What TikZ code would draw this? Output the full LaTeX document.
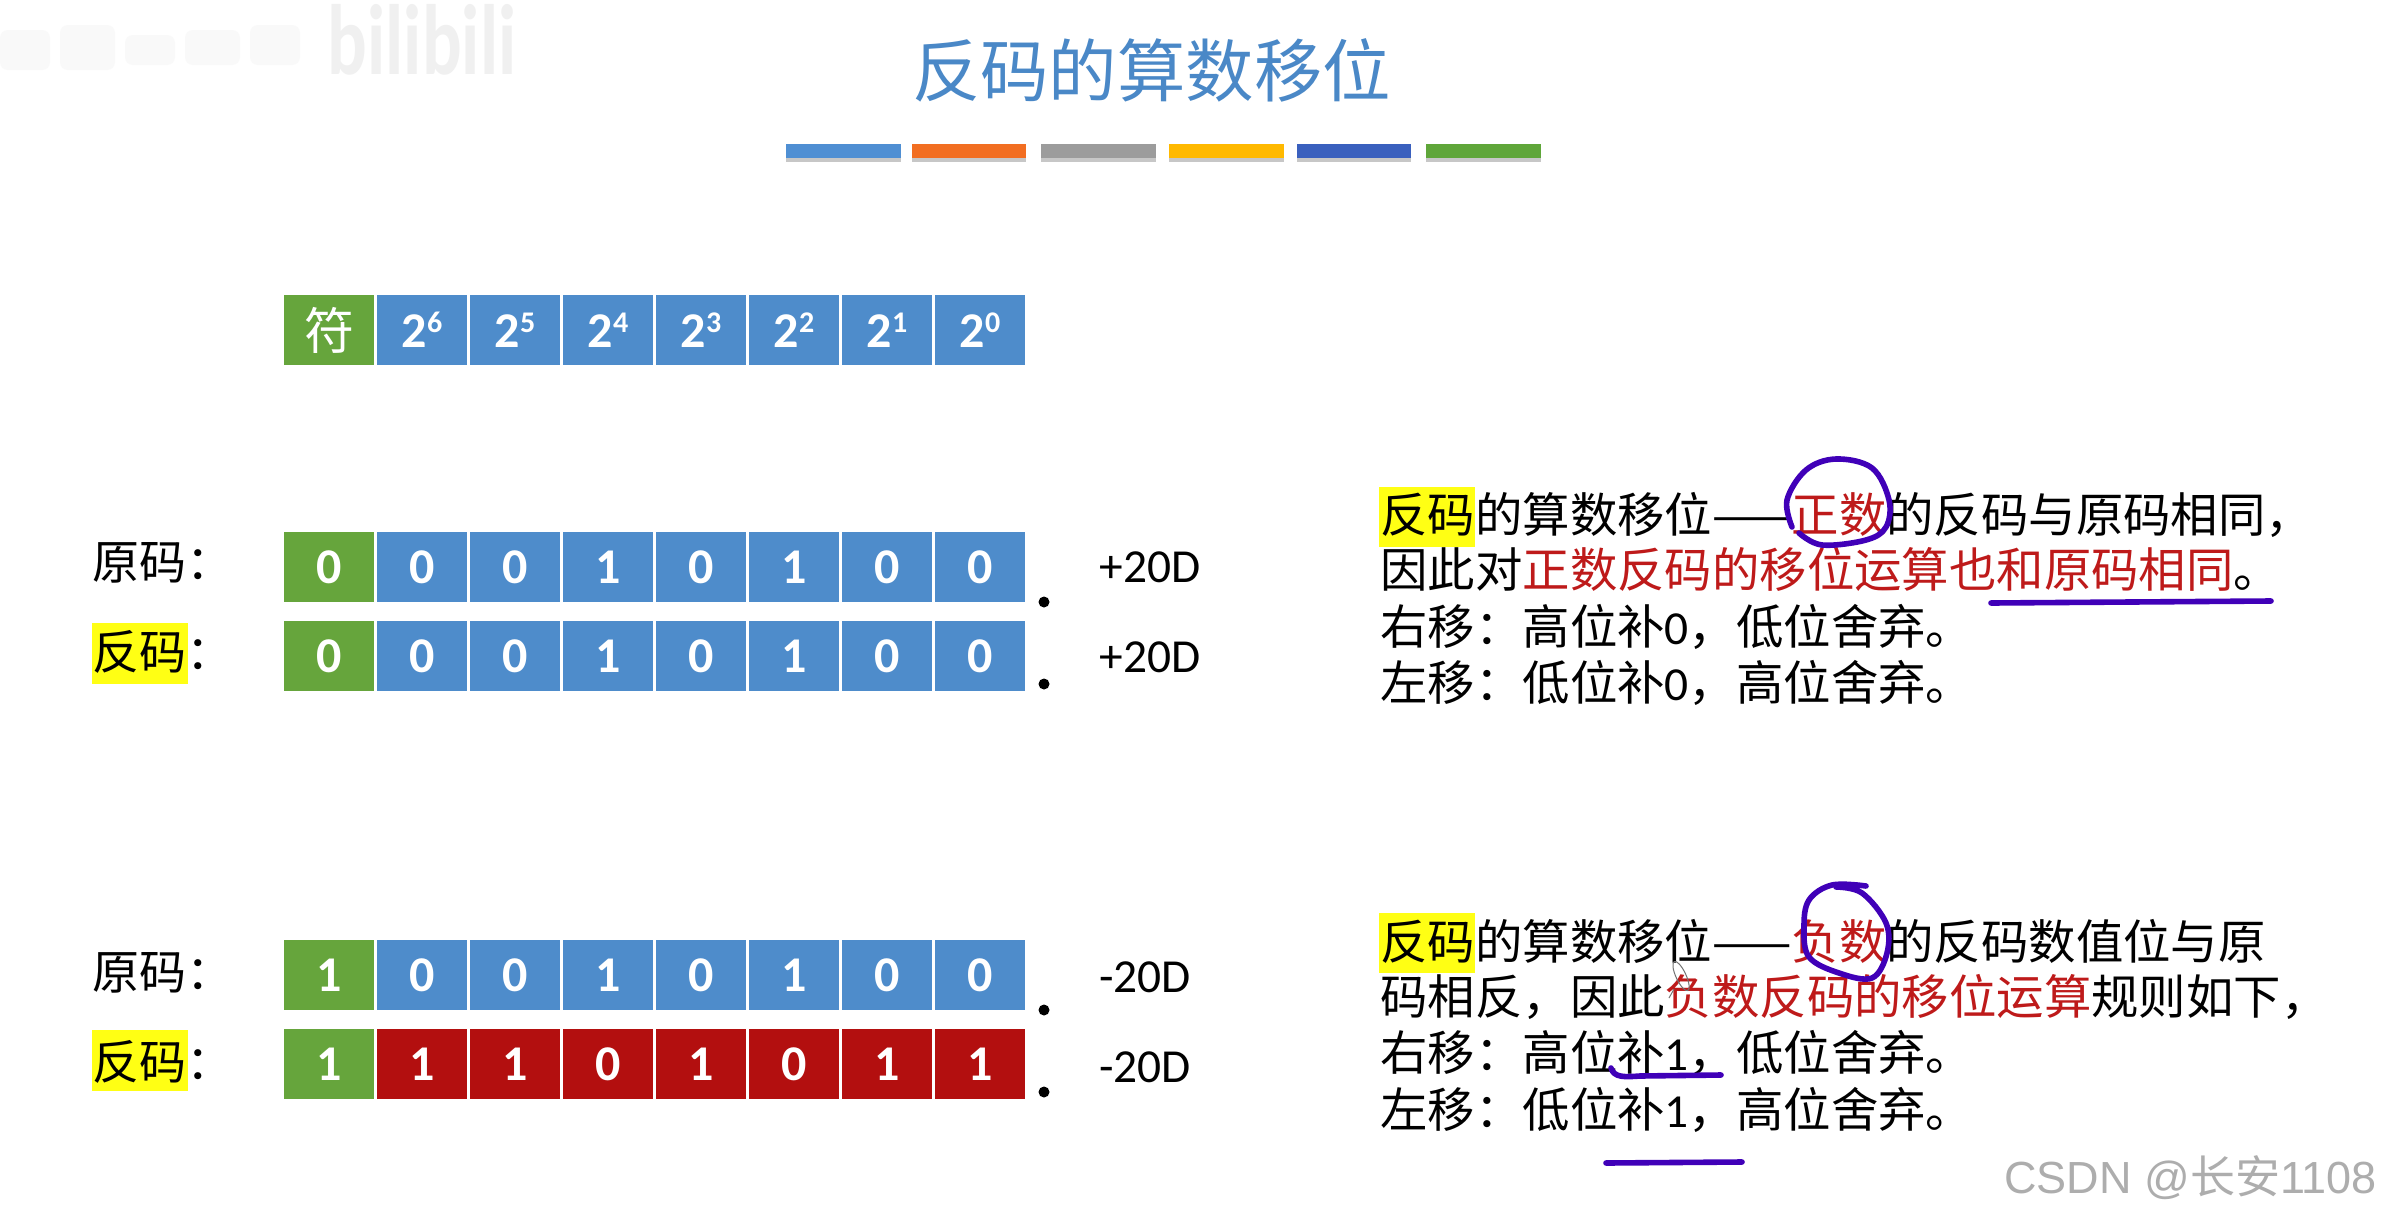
\documentclass[tikz,border=0pt]{standalone}
\usepackage{fontspec}
\setmainfont{Carlito}
\newfontfamily\cjk{Noto Sans CJK SC}
\newfontfamily\lat{Carlito}
\definecolor{cellblue}{HTML}{4E8CCB}
\definecolor{cellgreen}{HTML}{66A53C}
\definecolor{cellred}{HTML}{B30F0F}
\definecolor{titleblue}{HTML}{4A88C7}
\definecolor{redtext}{HTML}{BE1A1A}
\definecolor{inkpen}{HTML}{4000B8}
\definecolor{hl}{HTML}{FFFF14}
\newcommand{\sz}[1]{\fontsize{#1}{#1}\selectfont}
\newcommand{\pw}[2]{#1\raisebox{0.62ex}{\sz{15}#2}}
\newcommand{\rd}[1]{\textcolor{redtext}{#1}}
\tikzset{
  cellbase/.style={minimum width=45pt,minimum height=35pt,inner sep=0pt,text=white,font=\sz{25}\lat\bfseries},
  cellb/.style={cellbase,fill=cellblue},
  cellg/.style={cellbase,fill=cellgreen},
  cellr/.style={cellbase,fill=cellred},
  bodyline/.style={anchor=west,inner sep=0pt,font=\sz{23.7}\cjk,text height=20.5pt,text depth=3.2pt},
  rowlabel/.style={anchor=west,inner sep=0pt,font=\sz{23.5}\cjk,text height=20.5pt,text depth=3.2pt},
  valuelabel/.style={anchor=west,inner sep=0pt,font=\sz{23.7}\lat},
  pen/.style={draw=inkpen,line width=2.8pt,line cap=round,line join=round},
  highlight/.style={fill=hl,draw=none},
  smudge/.style={fill=black!2.5,draw=none,rounded corners=4pt},
  bardrop/.style={fill=black!22,draw=none},
  blackdot/.style={circle,fill=black,inner sep=0pt,minimum size=5.5pt}
}
\begin{document}
\begin{tikzpicture}[x=0.5pt,y=-0.5pt]
\useasboundingbox (0,0) rectangle (2383,1216);
\fill[white] (0,0) rectangle (2383,1216);
% faint watermark top-left
\foreach \sx/\sy/\sw/\sh in {0/30/50/40, 60/25/55/45, 125/35/50/30, 185/30/55/35, 250/25/50/40}
  \fill[smudge] (\sx,\sy) rectangle ++(\sw,\sh);
\node[inner sep=0pt,text=black!6,font=\sz{37}\lat\bfseries,yscale=1.35] (wm1) at (422,40) {bilibili};
% title
\node[inner sep=0pt,text=titleblue,font=\sz{34.2}\cjk] (title) at (1151.5,70) {反码的算数移位};
% colour bars
\foreach \xa/\xb/\c in {786/901/4F8FD3, 912/1026/F26E21, 1041/1156/9C9C9C, 1169/1284/FFB900, 1297/1411/3A60BE, 1426/1541/5FA63A}{
  \definecolor{barc}{HTML}{\c}
  \fill[bardrop] (\xa,156) rectangle (\xb,162);
  \fill[barc] (\xa,144) rectangle (\xb,158);
}
% header row
\node[cellg,font=\sz{25}\cjk] (h0) at (329,330) {符};
\foreach \i/\p in {1/6,2/5,3/4,4/3,5/2,6/1,7/0}
  \node[cellb] (h\i) at ({329+93*\i},330) {\pw{2}{\p}};
% data rows
\node[cellg] (a0) at (329,567) {0};
\foreach \i/\v in {1/0,2/0,3/1,4/0,5/1,6/0,7/0}
  \node[cellb] (a\i) at ({329+93*\i},567) {\v};
\node[cellg] (b0) at (329,656) {0};
\foreach \i/\v in {1/0,2/0,3/1,4/0,5/1,6/0,7/0}
  \node[cellb] (b\i) at ({329+93*\i},656) {\v};
\node[cellg] (c0) at (329,975) {1};
\foreach \i/\v in {1/0,2/0,3/1,4/0,5/1,6/0,7/0}
  \node[cellb] (c\i) at ({329+93*\i},975) {\v};
\node[cellg] (d0) at (329,1064) {1};
\foreach \i/\v in {1/1,2/1,3/0,4/1,5/0,6/1,7/1}
  \node[cellr] (d\i) at ({329+93*\i},1064) {\v};
% dots
\node[blackdot] (dot1) at (1044,602) {};
\node[blackdot] (dot2) at (1044,684) {};
\node[blackdot] (dot3) at (1044,1010) {};
\node[blackdot] (dot4) at (1044,1092) {};
% row labels
\fill[highlight] (92,623) rectangle (188,684);
\fill[highlight] (92,1030) rectangle (188,1091);
\node[rowlabel] (la) at (92,562) {原码：};
\node[rowlabel] (lb) at (92,652) {反码：};
\node[rowlabel] (lc) at (92,972) {原码：};
\node[rowlabel] (ld) at (92,1062) {反码：};
% values
\node[valuelabel] (va) at (1099,567) {+20D};
\node[valuelabel] (vb) at (1099,657) {+20D};
\node[valuelabel] (vc) at (1099,977) {-20D};
\node[valuelabel] (vd) at (1099,1067) {-20D};
% right text, upper
\fill[highlight] (1379,487) rectangle (1475,547);
\node[bodyline] (t1) at (1380,515) {反码的算数移位——\rd{正数}的反码与原码相同，};
\node[bodyline] (t2) at (1380,570) {因此对\rd{正数反码的移位运算也和原码相同}。};
\node[bodyline] (t3) at (1380,627) {右移：高位补{\lat 0}，低位舍弃。};
\node[bodyline] (t4) at (1380,683) {左移：低位补{\lat 0}，高位舍弃。};
% right text, lower
\fill[highlight] (1379,913) rectangle (1475,973);
\node[bodyline] (u1) at (1380,942) {反码的算数移位——\rd{负数}的反码数值位与原};
\node[bodyline] (u2) at (1380,997) {码相反，因此\rd{负数反码的移位运算}规则如下，};
\node[bodyline] (u3) at (1380,1053) {右移：高位补{\lat 1}，低位舍弃。};
\node[bodyline] (u4) at (1380,1110) {左移：低位补{\lat 1}，高位舍弃。};
% pen annotations
\draw[pen] plot[smooth,tension=0.6] coordinates {(1792,527) (1787,500) (1806,470) (1836,459) (1872,468) (1889,500) (1886,527) (1866,540) (1822,545) (1799,533)};
\draw[pen] (1991,603) -- (2271,601);
\draw[pen] plot[smooth,tension=0.6] coordinates {(1866,886) (1832,885) (1809,900) (1804,927) (1809,957) (1839,973) (1872,978) (1887,953) (1886,923) (1862,893) (1836,887)};
\draw[pen] (1611,1068) .. controls (1614,1078) and (1625,1077) .. (1640,1076) -- (1721,1075);
\draw[pen] (1606,1163) -- (1742,1162);
% pen cursor
\draw[black!55,line width=0.5pt,rotate around={-65:(1681,976)}] (1681,976) ellipse (16 and 5);
\draw[black!55,line width=0.5pt] (1674,989) -- (1669,998);
% bottom-right watermark
\node[anchor=west,inner sep=0pt,text=black!32,font=\sz{22.5}\fontspec{Liberation Sans}] (csdn) at (2004,1178) {CSDN @{\cjk 长安}1108};
\end{tikzpicture}
\end{document}
